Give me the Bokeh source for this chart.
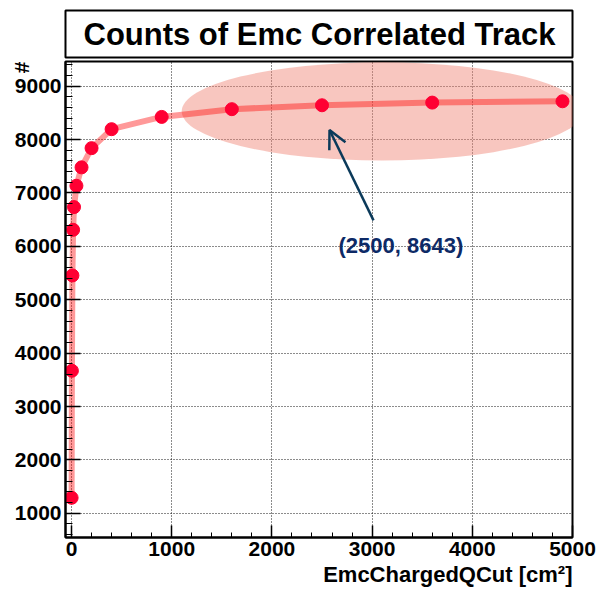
import numpy as np
from bokeh.plotting import figure
from bokeh.models import Label, Arrow, OpenHead, FixedTicker, Range1d, Title
from bokeh.embed import file_html
from bokeh.resources import INLINE

# ---- data ----
cut_values = [1, 4, 9, 16, 25, 49, 100, 200, 400, 900, 1600, 2500, 3600, 4900]
track_counts = [1290, 3670, 5455, 6310, 6735, 7135, 7480, 7840, 8195, 8425,
                8570, 8643, 8693, 8718]
x_major = [0, 1000, 2000, 3000, 4000, 5000]
y_major = [1000, 2000, 3000, 4000, 5000, 6000, 7000, 8000, 9000]
title_text = "Counts of Emc Correlated Track"
x_title = "EmcChargedQCut [cm\u00b2]"
y_title = "#"
note_text = "(2500, 8643)"
# highlight ellipse (center, radii) in data units
ell_cx, ell_cy, ell_rx, ell_ry = 3100, 8530, 2000, 920
# arrow (start -> end) in data units
arrow_x0, arrow_y0, arrow_x1, arrow_y1 = 3014, 6487, 2575, 8179
note_x, note_y = 3287, 6015

FONT = "Liberation Sans"

p = figure(width=598, height=594, output_backend="svg", toolbar_location=None,
           x_range=Range1d(-60, 5000), y_range=Range1d(546, 9463),
           min_border_left=65, min_border_right=26, min_border_top=61,
           min_border_bottom=57)
p.background_fill_color = "white"
p.border_fill_color = "white"
p.outline_line_color = "black"
p.outline_line_width = 2

x_minor = list(range(0, 5001, 200))
y_minor = list(range(600, 9463, 200))
p.xaxis.ticker = FixedTicker(ticks=x_major, minor_ticks=x_minor)
p.yaxis.ticker = FixedTicker(ticks=y_major, minor_ticks=y_minor)
p.xgrid.ticker = FixedTicker(ticks=x_major)
p.ygrid.ticker = FixedTicker(ticks=y_major)
for g in (p.xgrid, p.ygrid):
    g.grid_line_color = "black"
    g.grid_line_dash = "1 2"
    g.grid_line_width = 1
    g.grid_line_alpha = 0.9

for ax in (p.xaxis, p.yaxis):
    ax.axis_line_color = "black"
    ax.axis_line_width = 2
    ax.major_tick_out = 0
    ax.minor_tick_out = 0
    ax.major_tick_line_color = "black"
    ax.minor_tick_line_color = "black"
    ax.major_tick_line_width = 1.5
    ax.minor_tick_line_width = 1
    ax.major_label_text_font = FONT
    ax.major_label_text_font_style = "bold"
    ax.major_label_text_font_size = "21px"
    ax.major_label_text_color = "black"
p.xaxis.major_tick_in = 12
p.xaxis.minor_tick_in = 5
p.yaxis.major_tick_in = 15
p.yaxis.minor_tick_in = 7
p.xaxis.major_label_standoff = 4
p.yaxis.major_label_standoff = 4

# ellipse highlight
p.ellipse(x=[ell_cx], y=[ell_cy], width=2 * ell_rx, height=2 * ell_ry,
          fill_color="#f08070", fill_alpha=0.45, line_color=None)

p.line(cut_values, track_counts, line_color="red", line_alpha=0.4, line_width=6)
p.scatter(cut_values, track_counts, size=13, fill_color="#ff0033",
          line_color="#ff0033")

p.add_layout(Arrow(end=OpenHead(size=18, line_color="#0b3a5a", line_width=2.5),
                   x_start=arrow_x0, y_start=arrow_y0, x_end=arrow_x1, y_end=arrow_y1,
                   line_color="#0b3a5a", line_width=2.5))
p.add_layout(Label(x=note_x, y=note_y, text=note_text, text_align="center",
                   text_baseline="middle", text_font=FONT, text_font_style="bold",
                   text_font_size="22px", text_color="#0d2a66"))

# title box
title = Title(text=title_text, align="center", text_font=FONT,
              text_font_style="bold", text_font_size="31px", text_color="black",
              background_fill_color="white", border_line_color="black",
              border_line_width=2, standoff=8,
              padding=dict(left=18, right=17, top=6, bottom=6))
p.add_layout(title, "above")

# axis titles (ROOT style: placed at the high end of each axis)
p.add_layout(Title(text=x_title, align="right", text_font=FONT,
                   text_font_style="bold", text_font_size="22px",
                   text_color="black", standoff=3), "below")
p.add_layout(Title(text=y_title, align="right", text_font=FONT,
                   text_font_style="bold", text_font_size="21px",
                   text_color="black", standoff=-43), "left")

open("out.html", "w").write(file_html(p, INLINE))
